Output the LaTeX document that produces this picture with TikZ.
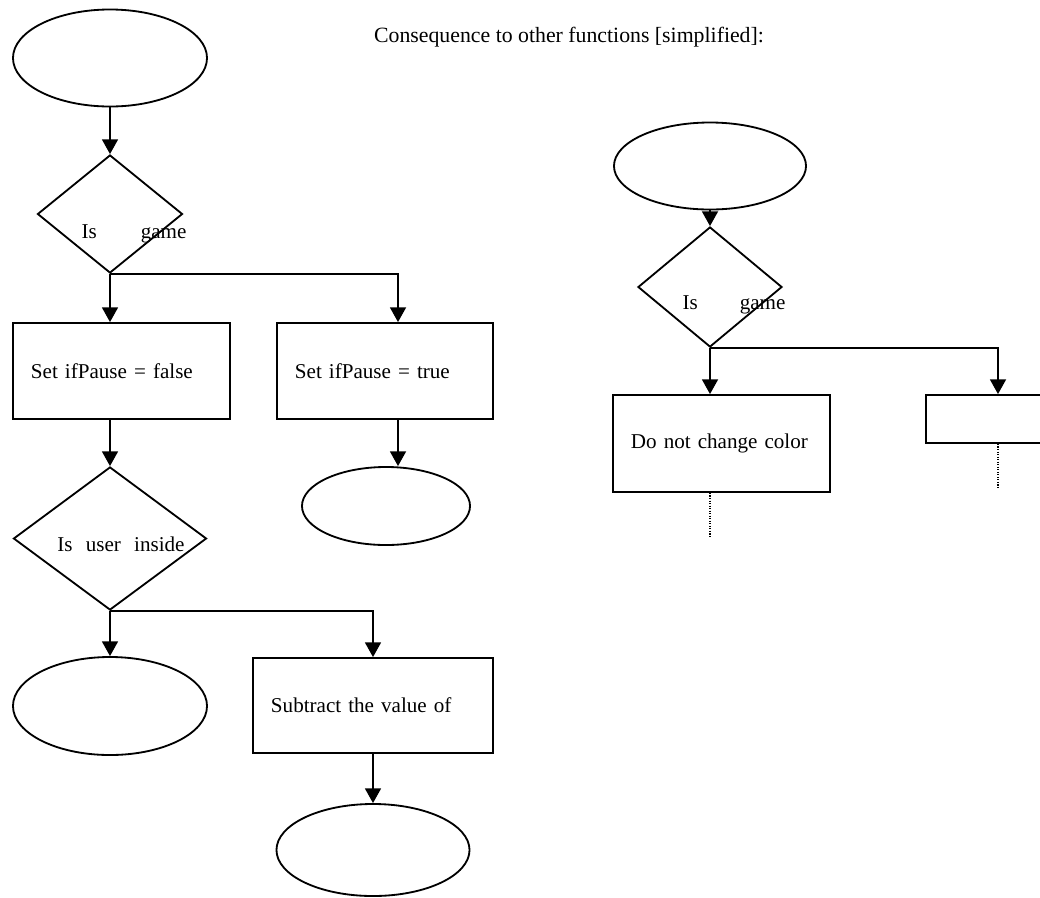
\documentclass[tikz,border=0pt]{standalone}
\usepackage{fontspec}
\setmainfont{Liberation Serif}
\usetikzlibrary{arrows,arrows.meta,shapes.geometric,positioning}

\begin{document}
\begin{tikzpicture}[x=0.025cm,y=-0.025cm,>={Triangle[length=0.37cm,width=0.4cm]},line width=1.3pt,
    font=\fontsize{15}{18}\selectfont,
    term/.style={draw,ellipse,inner sep=0pt},
    cond/.style={draw,diamond,inner sep=0pt},
    act/.style={draw,rectangle,inner xsep=0.45cm,align=left}]
      \useasboundingbox (0,0) rectangle (1040,897);
      \clip (0,0) rectangle (1040,897);
      \node[term,minimum width=4.85cm,minimum height=2.425cm] (A) at (110,58) {};
      \node[cond,minimum width=3.625cm,minimum height=2.95cm] (B) at (110,214) {};
      \node (Bt) at (134,234) {Is\hspace{1.1cm}game};
      \node[act,text width=4.525cm,minimum height=2.4cm] (C) at (121.5,371) {Set ifPause = false};
      \node[act,text width=4.5cm,minimum height=2.4cm] (D) at (385,371) {Set ifPause = true};
      \node[cond,minimum width=4.825cm,minimum height=3.575cm] (E) at (110,538.5) {};
      \node (Et) at (121,544) {Is\hspace{0.33cm}user\hspace{0.33cm}inside};
      \node[term,minimum width=4.2cm,minimum height=1.95cm] (F) at (386,506) {};
      \node[term,minimum width=4.85cm,minimum height=2.45cm] (G) at (110,706) {};
      \node[act,text width=5.1cm,minimum height=2.375cm] (H) at (373,705.5) {Subtract the value of};
      \node[term,minimum width=4.825cm,minimum height=2.3cm] (I) at (373,850) {};

      \node[font=\fontsize{15.5}{18}\selectfont] (T) at (569,37) {Consequence to other functions [simplified]:};
      \node[term,minimum width=4.8cm,minimum height=2.175cm] (J) at (710,166) {};
      \node[cond,minimum width=3.6cm,minimum height=3cm] (K) at (710,287) {};
      \node (Kt) at (734,305) {Is\hspace{1.05cm}game};
      \node[act,text width=4.525cm,minimum height=2.425cm] (L) at (721.5,443.5) {Do not change color};
      \node[act,text width=4.525cm,minimum height=1.2cm] (M) at (1034.5,419) {};
      \coordinate (L1) at (710,537);
      \coordinate (M1) at (998,488);

      \draw[->] (A) -- (B);
      \draw[->] (B.south) -- (B.south |- C.north);
      \draw[->] (B.south) -| ([xshift=0.325cm]D.north);
      \draw[->] (E.north |- C.south) -- (E.north);
      \draw[->] ([xshift=0.325cm]D.south) -- ([xshift=0.325cm]D.south |- F.north);
      \draw[->] (E.south) -- (G.north);
      \draw[->] (E.south) -| (H.north);
      \draw[->] (H.south) -- (I.north);
      \draw[->] (J) -- (K);
      \draw[->] (K.south) -- (K.south |- L.north);
      \draw[->] (K.south) -| (M1 |- M.north);
      \draw[densely dotted,line width=0.8pt] (L.south -| L1) -- (L1);
      \draw[densely dotted,line width=0.8pt] (M.south -| M1) -- (M1);
    \end{tikzpicture}
\end{document}
